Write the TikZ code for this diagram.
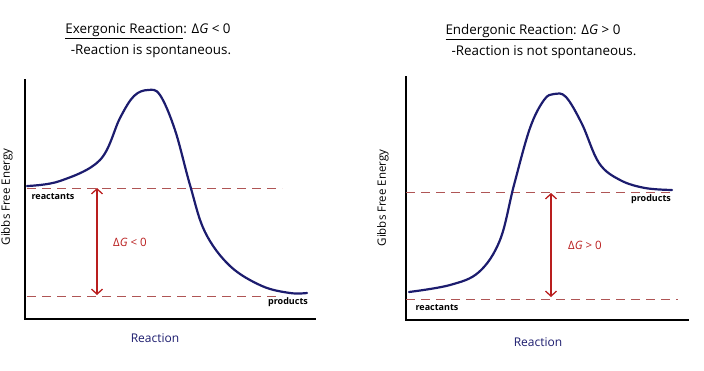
\documentclass[tikz,border=0pt]{standalone}
\usepackage{fontspec}
\setmainfont{Open Sans}
\usetikzlibrary{arrows.meta,calc}
\definecolor{curvenavy}{RGB}{28,28,110}
\definecolor{levelred}{RGB}{175,85,85}
\definecolor{arrowred}{RGB}{185,30,30}
\newcommand{\dG}{Δ\textit{G}}

\begin{document}
\begin{tikzpicture}[x=1pt, y=-1pt,
heading/.style={font=\fontsize{13.4}{15}\selectfont, inner sep=0pt},
axis/.style={draw, line width=1.3pt},
energy/.style={draw=curvenavy, line width=2.2pt, line cap=round},
level/.style={draw=levelred, line width=0.8pt, dash pattern=on 9pt off 6pt},
dgarrow/.style={draw=arrowred, line width=1.3pt,
  {Straight Barb[length=5pt,width=11pt]}-{Straight Barb[length=5pt,width=11pt]}},
dglabel/.style={text=arrowred, font=\fontsize{11.5}{13}\selectfont, inner sep=0pt},
state/.style={font=\fontsize{9}{10}\selectfont\bfseries, inner sep=0pt},
axislabel/.style={text=curvenavy, font=\fontsize{12}{14}\selectfont, inner sep=0pt},
ylabel/.style={font=\fontsize{11.5}{13}\selectfont, inner sep=0pt, rotate=90}
  ]
\useasboundingbox (0,0) rectangle (704,370);

%% exergonic
\node[heading] (exTitle) at (148,31) {\underline{Exergonic Reaction}: \dG{} < 0};
\node[heading] (exNote) at (151,51) {-Reaction is spontaneous.};
\draw[axis] (25,79) |- (316,319);
\node[ylabel] (exY) at (7,197) {Gibbs Free Energy};
\node[axislabel] (exX) at (155,338) {Reaction};
\coordinate (exReacL) at (27,188);
\coordinate (exReacR) at (282,188);
\coordinate (exProdL) at (27,296);
\coordinate (exProdR) at (282,296);
\draw[level] (exReacL) -- (exReacR);
\draw[level] (exProdL) -- (exProdR);
\draw[energy] plot[smooth, tension=0.6] coordinates {(27,186) (60,181) (100,160)
  (120,118) (134,96) (148,90) (160,95) (175,130) (190,185) (205,232) (230,266)
  (262,286) (290,293) (307,293)};
\coordinate (exTop) at (97,188);
\coordinate (exBot) at (97,295);
\draw[dgarrow] (exTop) -- (exBot);
\node[dglabel] (exDG) at (130,242) {\dG{} < 0};
\node[state] (exReac) at (53,197) {reactants};
\node[state] (exProd) at (288,302) {products};

%% endergonic
\node[heading] (enTitle) at (533,32) {\underline{Endergonic Reaction}: \dG{} > 0};
\node[heading] (enNote) at (544,52) {-Reaction is not spontaneous.};
\draw[axis] (406,76) |- (689,320);
\node[ylabel] (enY) at (383,198) {Gibbs Free Energy};
\node[axislabel] (enX) at (538,342) {Reaction};
\coordinate (enProdL) at (406,192);
\coordinate (enProdR) at (674,192);
\coordinate (enReacL) at (406,299);
\coordinate (enReacR) at (678,299);
\draw[level] (enProdL) -- (enProdR);
\draw[level] (enReacL) -- (enReacR);
\draw[energy] plot[smooth, tension=0.6] coordinates {(409,292) (450,285) (479,272)
  (500,240) (514,185) (530,128) (544,100) (554,94) (566,97) (582,124) (599,163)
  (620,180) (645,188) (672,190)};
\coordinate (enTop) at (551,193);
\coordinate (enBot) at (551,297);
\draw[dgarrow] (enTop) -- (enBot);
\node[dglabel] (enDG) at (585,245) {\dG{} > 0};
\node[state] (enProd) at (651,199) {products};
\node[state] (enReac) at (437,308) {reactants};
\end{tikzpicture}
\end{document}
